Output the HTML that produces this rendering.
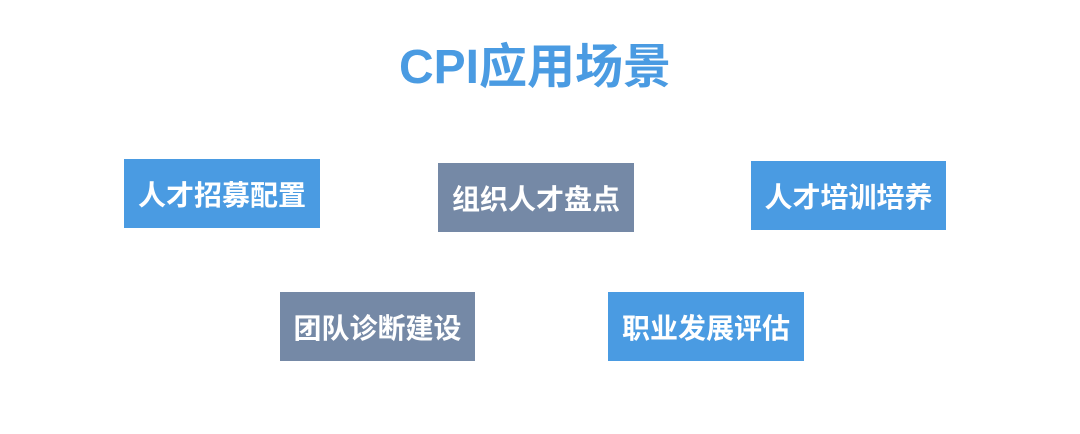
<!DOCTYPE html>
<html><head><meta charset="utf-8"><style>
html,body{margin:0;padding:0;width:1080px;height:434px;background:#fff;overflow:hidden;position:relative;font-family:"Liberation Sans","Noto Sans CJK SC",sans-serif}
.t{position:absolute;left:0;width:1070px;top:38px;text-align:center;font-size:48px;font-weight:bold;color:#4a9be2;line-height:60px}
.b{position:absolute;width:196px;height:69px;color:#fff;font-size:28px;font-weight:bold;display:flex;align-items:center;justify-content:center}
.bl{background:#4a9be2}.g{background:#7589a6}
</style></head><body>
<div class="t">CPI应用场景</div>
<div class="b bl" style="left:124px;top:159px">人才招募配置</div>
<div class="b g" style="left:438px;top:163px">组织人才盘点</div>
<div class="b bl" style="left:751px;top:161px;width:195px">人才培训培养</div>
<div class="b g" style="left:280px;top:292px;width:195px">团队诊断建设</div>
<div class="b bl" style="left:608px;top:292px">职业发展评估</div>
</body></html>
